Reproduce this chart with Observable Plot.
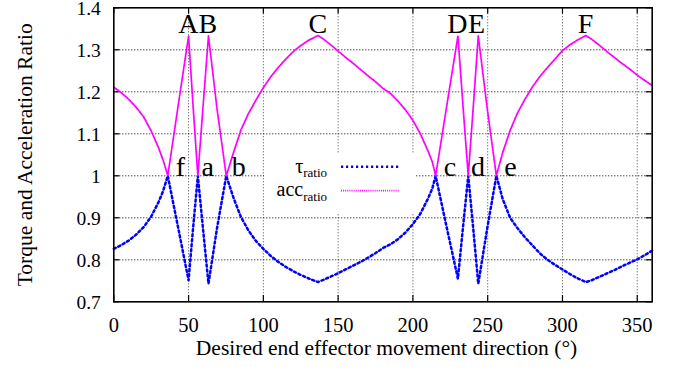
<!DOCTYPE html>
<html>
<head>
<meta charset="utf-8">
<script src="https://cdn.jsdelivr.net/npm/d3@7"></script>
<script src="https://cdn.jsdelivr.net/npm/@observablehq/plot@0.6"></script>
<style>
  body { margin: 0; background: #fff; }
  #wrap { position: relative; width: 681px; height: 372px; }
  #legend { position: absolute; left: 264px; top: 153px; width: 151px; height: 60px; background: #fff; }
  #chart svg text { font-family: "Liberation Serif", "Times New Roman", serif; }
</style>
</head>
<body>
<div id="wrap">
  <div id="chart"></div>
  <div id="legend">
    <svg width="151" height="60" font-family="Liberation Serif, serif" font-size="20">
      <text x="63" y="19.5" text-anchor="end">τ<tspan font-size="13" dy="4.5">ratio</tspan></text>
      <line x1="77" x2="135" y1="13.7" y2="13.7" stroke="#0000ff" stroke-width="2.5" stroke-dasharray="2.2,2.8"></line>
      <text x="63" y="43" text-anchor="end">acc<tspan font-size="13" dy="4.5">ratio</tspan></text>
      <line x1="77" x2="135" y1="37.7" y2="37.7" stroke="#ff00ff" stroke-width="1.8" stroke-dasharray="1,1.1"></line>
    </svg>
  </div>
</div>
<script>
// Desired end effector movement direction (degrees)
const angle = [0, 5, 10, 15, 20, 25, 30, 33, 36.1, 43, 50, 53, 56.2, 59.7, 63.3, 69, 75.2,
  80, 85, 90, 95, 100, 105, 110, 115, 120, 125, 130, 136.5, 140, 145, 150, 155, 160, 165, 170,
  175, 180, 185, 190, 195, 200, 205, 210, 213, 215.2, 222.6, 230.1, 233.5, 237, 240.4, 243.7,
  249.7, 255.8, 260, 265, 270, 275, 280, 285, 290, 295, 300, 305, 310, 315.7, 320, 325, 330,
  335, 340, 345, 350, 355, 360];
// τ ratio
const tauRatio = [0.826, 0.835, 0.846, 0.860, 0.878, 0.903, 0.938, 0.964, 1.000, 0.877, 0.751,
  0.875, 1.000, 0.872, 0.743, 0.875, 1.000,
  0.948, 0.902, 0.870, 0.845, 0.826, 0.809, 0.795, 0.783, 0.773, 0.764, 0.756, 0.747, 0.752,
  0.760, 0.768, 0.777, 0.786, 0.795, 0.805,
  0.816, 0.828, 0.837, 0.849, 0.865, 0.885, 0.910, 0.945, 0.970, 1.000, 0.877, 0.755, 0.878,
  1.000, 0.872, 0.743,
  0.875, 1.000, 0.945, 0.900, 0.875, 0.853, 0.834, 0.815, 0.800, 0.788, 0.777, 0.766, 0.756,
  0.747, 0.752, 0.760, 0.768,
  0.776, 0.785, 0.793, 0.801, 0.811, 0.822];
// acc ratio
const accRatio = [1.211, 1.198, 1.182, 1.163, 1.140, 1.107, 1.066, 1.037, 1.000, 1.166, 1.333,
  1.167, 1.000, 1.166, 1.333, 1.160, 1.000,
  1.055, 1.109, 1.148, 1.180, 1.210, 1.236, 1.258, 1.278, 1.296, 1.310, 1.322, 1.334, 1.326,
  1.312, 1.297, 1.282, 1.268, 1.253, 1.238,
  1.224, 1.208, 1.196, 1.178, 1.157, 1.132, 1.100, 1.060, 1.033, 1.000, 1.166, 1.333, 1.166,
  1.000, 1.166, 1.333,
  1.160, 1.000, 1.055, 1.108, 1.150, 1.183, 1.212, 1.237, 1.258, 1.278, 1.298, 1.312, 1.323,
  1.334, 1.324, 1.310, 1.295,
  1.281, 1.267, 1.254, 1.240, 1.227, 1.215];

const xTicks = [0, 50, 100, 150, 200, 250, 300, 350];
const yTicks = [0.7, 0.8, 0.9, 1.0, 1.1, 1.2, 1.3, 1.4];
const yTickLabels = ["0.7", "0.8", "0.9", "1", "1.1", "1.2", "1.3", "1.4"];

const peakLabels = ["A", "B", "C", "D", "E", "F"];
const peakAngles = [49.8, 62.9, 136.5, 229.7, 242.5, 315.5];
const crossLabels = ["f", "a", "b", "c", "d", "e"];
const crossAngles = [44.6, 62.8, 83.6, 224.8, 243.5, 265.3];

const data = angle.map((a, i) => ({angle: a, tau: tauRatio[i], acc: accRatio[i]}));
const peaks = peakLabels.map((t, i) => ({t, a: peakAngles[i]}));
const crosses = crossLabels.map((t, i) => ({t, a: crossAngles[i]}));

const serif = "Liberation Serif";
const hGrid = {stroke: "#000", strokeWidth: 1, strokeDasharray: "1,2"};
const vGrid = {stroke: "#444", strokeWidth: 1, strokeDasharray: "1,2"};
const tickStyle = {stroke: "#000", strokeWidth: 1.2};

const chart = Plot.plot({
  width: 681,
  height: 372,
  marginLeft: 113.3,
  marginRight: 29.3,
  marginTop: 7.3,
  marginBottom: 70.7,
  x: {domain: [0, 360]},
  y: {domain: [0.7, 1.4]},
  style: {fontFamily: serif, fontSize: "20px", color: "#000", background: "#fff"},
  marks: [
    Plot.ruleX(xTicks.filter(v => v > 0), vGrid),
    Plot.ruleY(yTicks.filter(v => v > 0.7 && v < 1.4), hGrid),
    Plot.ruleX(xTicks, {y1: 0.7, y2: 0.715, ...tickStyle}),
    Plot.ruleX(xTicks, {y1: 1.385, y2: 1.4, ...tickStyle}),
    Plot.ruleY(yTicks, {x1: 0, x2: 4, ...tickStyle}),
    Plot.ruleY(yTicks, {x1: 356, x2: 360, ...tickStyle}),
    Plot.axisX(xTicks, {tickSize: 0, tickPadding: 16, tickFormat: d => String(d), label: null, fontSize: 20.5, fontFamily: serif}),
    Plot.axisY(yTicks, {tickSize: 0, tickPadding: 13, dy: 1, tickFormat: (d, i) => yTickLabels[i], label: null, fontSize: 19.5, fontFamily: serif}),
    Plot.line(data, {x: "angle", y: "tau", stroke: "#0000ff", strokeWidth: 2.5, strokeDasharray: "2.2,2.8"}),
    Plot.line(data, {x: "angle", y: "acc", stroke: "#ff00ff", strokeWidth: 1.8, strokeDasharray: "1,1.1"}),
    Plot.frame({stroke: "#000", strokeWidth: 1.6}),
    Plot.text(peaks, {x: "a", y: () => 1.362, text: "t", fontSize: 28, fontFamily: serif}),
    Plot.text(crosses, {x: "a", y: () => 1.021, text: "t", fontSize: 28, fontFamily: serif}),
    Plot.text(["Torque and Acceleration Ratio"], {frameAnchor: "left", textAnchor: "middle", rotate: -90, dx: -89, fontSize: 21.5, fontFamily: serif}),
    Plot.text(["Desired end effector movement direction (°)"], {frameAnchor: "bottom", textAnchor: "middle", dx: 3.5, dy: 53, fontSize: 21.5, fontFamily: serif})
  ]
});
document.getElementById("chart").append(chart);
</script>
</body>
</html>
